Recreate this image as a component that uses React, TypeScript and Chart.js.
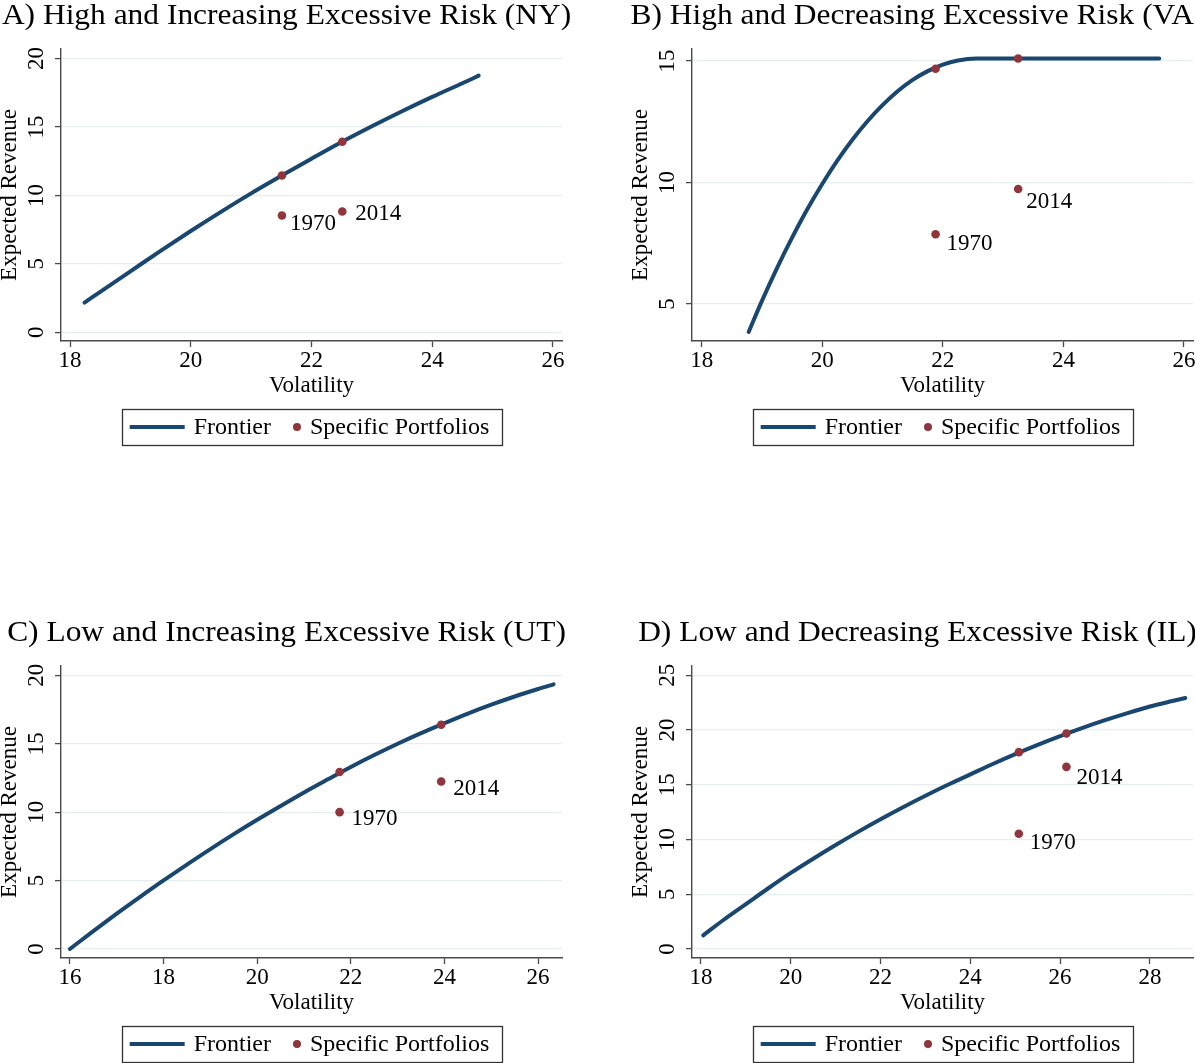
import React, { useEffect, useRef } from 'react';
import { Chart, registerables } from 'chart.js';

Chart.register(...registerables);

// ---------- Data ----------
const seriesNames = ['Frontier', 'Specific Portfolios'];
const xAxisTitle = 'Volatility';
const yAxisTitle = 'Expected Revenue';

// Panel A (NY)
const titleA = 'A) High and Increasing Excessive Risk (NY)';
const frontierVolA = [18.24, 18.5, 19, 19.5, 20, 20.5, 21, 21.5, 22, 22.5, 23, 23.5, 24, 24.5, 24.77];
const frontierRevA = [2.17, 2.95, 4.45, 5.95, 7.4, 8.8, 10.15, 11.43, 12.68, 13.9, 15.05, 16.15, 17.2, 18.2, 18.75];
const portVolA = [21.51, 22.51, 21.51, 22.51];
const portRevA = [11.46, 13.92, 8.53, 8.82];
const portLabelsA = ['', '', '1970', '2014'];
const xTicksA = [18, 20, 22, 24, 26];
const yTicksA = [0, 5, 10, 15, 20];

// Panel B (VA)
const titleB = 'B) High and Decreasing Excessive Risk (VA)';
const frontierVolB = [18.78, 19, 19.25, 19.5, 19.75, 20, 20.25, 20.5, 20.75, 21, 21.25, 21.5, 21.75, 22, 22.25, 22.56, 23, 24, 25, 25.59];
const frontierRevB = [3.85, 5.13, 6.48, 7.73, 8.89, 9.94, 10.9, 11.76, 12.52, 13.18, 13.75, 14.22, 14.58, 14.85, 15.02, 15.1, 15.1, 15.1, 15.1, 15.1];
const portVolB = [21.88, 23.25, 21.88, 23.25];
const portRevB = [14.68, 15.1, 7.87, 9.73];
const portLabelsB = ['', '', '1970', '2014'];
const xTicksB = [18, 20, 22, 24, 26];
const yTicksB = [5, 10, 15];

// Panel C (UT)
const titleC = 'C) Low and Increasing Excessive Risk (UT)';
const frontierVolC = [16, 16.5, 17, 17.5, 18, 18.5, 19, 19.5, 20, 20.5, 21, 21.5, 22, 22.5, 23, 23.5, 24, 24.5, 25, 25.5, 26, 26.33];
const frontierRevC = [0, 1.31, 2.58, 3.81, 5.01, 6.17, 7.3, 8.39, 9.44, 10.45, 11.44, 12.38, 13.3, 14.17, 15.0, 15.78, 16.5, 17.2, 17.85, 18.45, 19.0, 19.34];
const portVolC = [21.76, 23.93, 21.76, 23.93];
const portRevC = [12.93, 16.39, 10.0, 12.24];
const portLabelsC = ['', '', '1970', '2014'];
const xTicksC = [16, 18, 20, 22, 24, 26];
const yTicksC = [0, 5, 10, 15, 20];

// Panel D (IL)
const titleD = 'D) Low and Decreasing Excessive Risk (IL)';
const frontierVolD = [18.05, 18.5, 19, 19.5, 20, 20.5, 21, 21.5, 22, 22.5, 23, 23.5, 24, 24.5, 25, 25.5, 26, 26.5, 27, 27.5, 28, 28.5, 28.79];
const frontierRevD = [1.25, 2.65, 4.1, 5.55, 6.95, 8.25, 9.5, 10.7, 11.85, 12.95, 14.0, 15.0, 15.95, 16.9, 17.8, 18.65, 19.45, 20.2, 20.9, 21.55, 22.15, 22.65, 22.93];
const portVolD = [25.08, 26.14, 25.08, 26.14];
const portRevD = [17.98, 19.69, 10.53, 16.64];
const portLabelsD = ['', '', '1970', '2014'];
const xTicksD = [18, 20, 22, 24, 26, 28];
const yTicksD = [0, 5, 10, 15, 20, 25];

// ---------- Styles ----------
const NAVY = '#1a476f';
const MAROON = '#90353b';
const GRID = '#e6eef0';
const AXIS = '#4a4a4a';
const FONT = '"Liberation Serif", "Times New Roman", serif';
const CANVAS_W = 570;
const CANVAS_H = 617;

type PanelCfg = {
  title: string;
  fVol: number[]; fRev: number[];
  pVol: number[]; pRev: number[]; pLabels: string[];
  xTicks: number[]; yTicks: number[];
  xRange: [number, number]; yRange: [number, number];
  labelOffsets: [number, number][];
  left: number; top: number;
};

const panels: PanelCfg[] = [
  {
    title: titleA, fVol: frontierVolA, fRev: frontierRevA, pVol: portVolA, pRev: portRevA, pLabels: portLabelsA,
    xTicks: xTicksA, yTicks: yTicksA, xRange: [17.85, 26.15], yRange: [-0.64, 20.7],
    labelOffsets: [[0, 0], [0, 0], [8, 8], [13, 2]], left: 0, top: 0,
  },
  {
    title: titleB, fVol: frontierVolB, fRev: frontierRevB, pVol: portVolB, pRev: portRevB, pLabels: portLabelsB,
    xTicks: xTicksB, yTicks: yTicksB, xRange: [17.84, 26.15], yRange: [3.48, 15.49],
    labelOffsets: [[0, 0], [0, 0], [11, 10], [8, 13]], left: 631, top: 0,
  },
  {
    title: titleC, fVol: frontierVolC, fRev: frontierRevC, pVol: portVolC, pRev: portRevC, pLabels: portLabelsC,
    xTicks: xTicksC, yTicks: yTicksC, xRange: [15.81, 26.51], yRange: [-0.66, 20.68],
    labelOffsets: [[0, 0], [0, 0], [12, 7], [12, 7]], left: 0, top: 617,
  },
  {
    title: titleD, fVol: frontierVolD, fRev: frontierRevD, pVol: portVolD, pRev: portRevD, pLabels: portLabelsD,
    xTicks: xTicksD, yTicks: yTicksD, xRange: [17.8, 28.96], yRange: [-0.82, 25.85],
    labelOffsets: [[0, 0], [0, 0], [11, 9], [10, 11]], left: 631, top: 617,
  },
];

const stataPlugin = {
  id: 'stataDecor',
  afterDraw(chart: any, _args: any, opts: any) {
    const { ctx, chartArea: ca, scales } = chart;
    const xs = scales.x;
    const ys = scales.y;
    ctx.save();
    ctx.fillStyle = '#000';

    // Panel title
    ctx.font = `29px ${FONT}`;
    ctx.textAlign = 'center';
    ctx.textBaseline = 'alphabetic';
    ctx.save();
    ctx.translate(286.5, 24);
    ctx.scale(1.084, 1);
    ctx.fillText(opts.title, 0, 0);
    ctx.restore();

    // X tick labels
    ctx.font = `23px ${FONT}`;
    for (const v of opts.xTicks) {
      ctx.fillText(String(v), xs.getPixelForValue(v), ca.bottom + 26);
    }
    // X title
    ctx.fillText(opts.xTitle, (ca.left + ca.right) / 2, ca.bottom + 51);

    // Y tick labels (rotated)
    ctx.textBaseline = 'middle';
    for (const v of opts.yTicks) {
      const y = ys.getPixelForValue(v);
      ctx.save();
      ctx.translate(ca.left - 23.7, y);
      ctx.rotate(-Math.PI / 2);
      ctx.fillText(String(v), 0, 0);
      ctx.restore();
    }
    // Y title
    ctx.save();
    ctx.translate(ca.left - 51.5, (ca.top + ca.bottom) / 2);
    ctx.rotate(-Math.PI / 2);
    ctx.fillText(opts.yTitle, 0, 0);
    ctx.restore();

    // Point labels
    ctx.textAlign = 'left';
    const meta = chart.getDatasetMeta(0);
    opts.pLabels.forEach((lab: string, i: number) => {
      if (!lab) return;
      const el = meta.data[i];
      const [dx, dy] = opts.labelOffsets[i];
      ctx.fillText(lab, el.x + dx, el.y + dy);
    });

    // Legend
    ctx.font = `24px ${FONT}`;
    const w1 = ctx.measureText(opts.names[0]).width;
    const w2 = ctx.measureText(opts.names[1]).width;
    const padL = 8, lineLen = 55, gap1 = 9, gap2 = 22, dotW = 8, gap3 = 9, padR = 12;
    const total = padL + lineLen + gap1 + w1 + gap2 + dotW + gap3 + w2 + padR;
    const cx = (ca.left + ca.right) / 2;
    const bx = cx - total / 2;
    const by = ca.bottom + 68;
    const bh = 36;
    const my = by + bh / 2;
    ctx.strokeStyle = '#333';
    ctx.lineWidth = 1.3;
    ctx.strokeRect(Math.round(bx) + 0.5, Math.round(by) + 0.5, Math.round(total), bh);
    let x = bx + padL;
    ctx.strokeStyle = NAVY;
    ctx.lineWidth = 4;
    ctx.beginPath();
    ctx.moveTo(x, my);
    ctx.lineTo(x + lineLen, my);
    ctx.stroke();
    x += lineLen + gap1;
    ctx.fillStyle = '#000';
    ctx.textBaseline = 'middle';
    ctx.fillText(opts.names[0], x, my + 1);
    x += w1 + gap2;
    ctx.fillStyle = MAROON;
    ctx.beginPath();
    ctx.arc(x + dotW / 2, my, 4, 0, Math.PI * 2);
    ctx.fill();
    x += dotW + gap3;
    ctx.fillStyle = '#000';
    ctx.fillText(opts.names[1], x, my + 1);

    ctx.restore();
  },
};

function Panel({ cfg }: { cfg: PanelCfg }) {
  const ref = useRef<HTMLCanvasElement | null>(null);
  useEffect(() => {
    if (!ref.current) return;
    const frontier = cfg.fVol.map((v, i) => ({ x: v, y: cfg.fRev[i] }));
    const ports = cfg.pVol.map((v, i) => ({ x: v, y: cfg.pRev[i] }));
    const chart = new Chart(ref.current, {
      type: 'scatter',
      data: {
        datasets: [
          {
            label: seriesNames[1],
            data: ports,
            backgroundColor: MAROON,
            borderWidth: 0,
            pointRadius: 4.3,
            order: 1,
          } as any,
          {
            type: 'line',
            label: seriesNames[0],
            data: frontier,
            borderColor: NAVY,
            borderWidth: 4,
            pointRadius: 0,
            fill: false,
            showLine: true,
            cubicInterpolationMode: 'monotone',
            borderCapStyle: 'round',
            borderJoinStyle: 'round',
            order: 2,
          } as any,
        ],
      },
      options: {
        animation: false,
        responsive: false,
        events: [],
        layout: { padding: { top: 49, left: 0, right: 8, bottom: CANVAS_H - 341 - 60 } },
        plugins: {
          legend: { display: false },
          tooltip: { enabled: false },
          title: { display: false },
          stataDecor: {
            title: cfg.title,
            xTicks: cfg.xTicks,
            yTicks: cfg.yTicks,
            xTitle: xAxisTitle,
            yTitle: yAxisTitle,
            pLabels: cfg.pLabels,
            labelOffsets: cfg.labelOffsets,
            names: seriesNames,
          },
        } as any,
        scales: {
          x: {
            type: 'linear',
            min: cfg.xRange[0],
            max: cfg.xRange[1],
            afterBuildTicks: (s: any) => { s.ticks = cfg.xTicks.map((v) => ({ value: v })); },
            afterFit: (s: any) => { s.height = 60; },
            ticks: { display: false },
            grid: { drawOnChartArea: false, drawTicks: true, tickLength: 6, tickColor: AXIS, tickWidth: 1.3 },
            border: { display: true, color: AXIS, width: 1.4 },
            title: { display: false },
          },
          y: {
            type: 'linear',
            min: cfg.yRange[0],
            max: cfg.yRange[1],
            afterBuildTicks: (s: any) => { s.ticks = cfg.yTicks.map((v) => ({ value: v })); },
            afterFit: (s: any) => { s.width = 61; },
            ticks: { display: false },
            grid: { color: GRID, lineWidth: 1.2, drawOnChartArea: true, drawTicks: true, tickLength: 6, tickColor: AXIS, tickWidth: 1.3 },
            border: { display: true, color: AXIS, width: 1.4 },
            title: { display: false },
          },
        },
      } as any,
      plugins: [stataPlugin],
    });
    return () => chart.destroy();
  }, [cfg]);
  return (
    <canvas
      ref={ref}
      width={CANVAS_W}
      height={CANVAS_H}
      style={{ position: 'absolute', left: cfg.left, top: cfg.top, width: CANVAS_W, height: CANVAS_H }}
    />
  );
}

export default function App() {
  return (
    <div style={{ position: 'absolute', left: 0, top: 0, width: 1195, height: 1063, overflow: 'hidden', background: '#fff' }}>
      {panels.map((p, i) => (
        <Panel key={i} cfg={p} />
      ))}
    </div>
  );
}
